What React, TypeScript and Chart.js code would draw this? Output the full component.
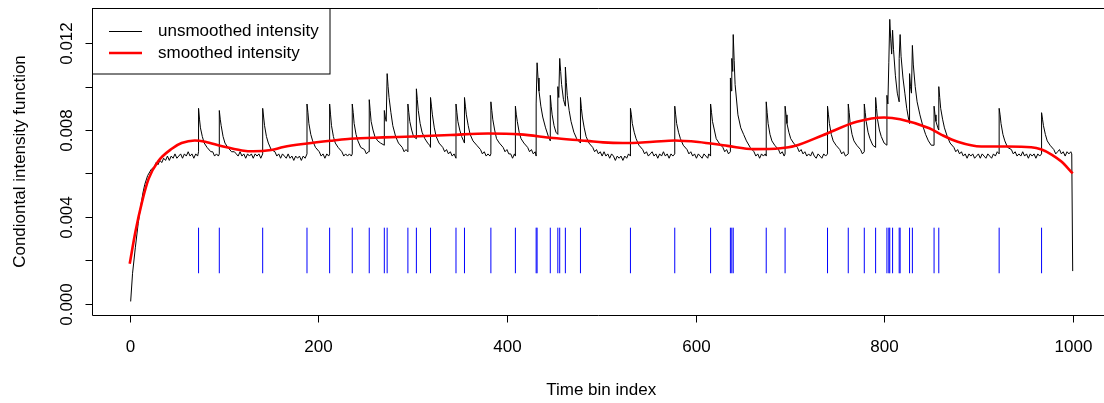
import React, { useEffect, useRef } from "react";
import { Chart, registerables } from "chart.js";

Chart.register(...registerables);

// ---- data ----
const xTicks = [0, 200, 400, 600, 800, 1000];
const xTickLabels = ["0", "200", "400", "600", "800", "1000"];
const yTicks = [0, 0.002, 0.004, 0.006, 0.008, 0.01, 0.012];
const yTickLabels = ["0.000", "", "0.004", "", "0.008", "", "0.012"];

const xTitle = "Time bin index";
const yTitle = "Condiontal intensity function";
const legendLabels = ["unsmoothed intensity", "smoothed intensity"];

const eventLow = 0.0014;
const eventHigh = 0.0035;
const eventTimes = [
  73, 95, 141, 188, 212, 236, 254, 270, 273, 295, 304, 319, 346, 355, 383, 409,
  431, 432, 446, 454, 456, 462, 478, 531, 578, 616, 637, 638.5, 640, 675, 695,
  740, 762, 779, 791, 803, 805, 806, 809, 816, 817, 827, 830, 853, 858, 922, 967,
];

const unsmoothed: [number, number][] = [
  [1, 0.0001], [3, 0.0014], [6, 0.0026], [9, 0.0037], [11, 0.0043], [14, 0.0051], [16, 0.0055],
  [19, 0.0059], [23, 0.0062], [26, 0.0063], [28, 0.0065], [30, 0.0064], [32, 0.0066], [34, 0.0065],
  [36, 0.0067], [38, 0.0066], [40, 0.0068], [42, 0.0066], [44, 0.0068], [46, 0.0067], [48, 0.0069],
  [50, 0.0067], [52, 0.0068], [54, 0.0069], [56, 0.0067], [58, 0.0069], [60, 0.0068], [62, 0.007],
  [64, 0.0068], [66, 0.0069], [68, 0.0067], [70, 0.0069], [72, 0.0068], [73, 0.007],
  [73, 0.009], [74, 0.0085], [75, 0.0081], [77, 0.0077], [79, 0.0074], [82, 0.0072], [86, 0.007],
  [88, 0.0070], [90, 0.0068], [92, 0.0069], [94, 0.0068], [95, 0.0069],
  [95, 0.0089], [96, 0.0085], [97, 0.0082], [99, 0.0077], [101, 0.0074], [104, 0.0072], [108, 0.007],
  [111, 0.0070], [113, 0.0069], [115, 0.0068], [117, 0.007], [119, 0.0068], [121, 0.0069],
  [123, 0.0067], [125, 0.0069], [127, 0.0068], [129, 0.0069], [131, 0.0067], [133, 0.0069],
  [135, 0.0068], [137, 0.0069], [139, 0.0067], [141, 0.0069],
  [141, 0.009], [142, 0.0086], [143, 0.0082], [145, 0.0077], [147, 0.0074], [150, 0.0071],
  [154, 0.007], [156, 0.0068], [158, 0.0069], [160, 0.0067], [162, 0.0069], [164, 0.0068],
  [166, 0.0067], [168, 0.0069], [170, 0.0067], [172, 0.0068], [174, 0.0066], [176, 0.0068],
  [178, 0.0067], [180, 0.0068], [182, 0.0066], [184, 0.0068], [186, 0.0067], [188, 0.0069],
  [188, 0.0092], [189, 0.0088], [190, 0.0083], [192, 0.0078], [194, 0.0075], [197, 0.0072],
  [201, 0.007], [203, 0.0068], [205, 0.0069], [207, 0.0067], [209, 0.0069], [211, 0.0068], [212, 0.0069],
  [212, 0.0092], [213, 0.0087], [214, 0.0082], [216, 0.0077], [218, 0.0074], [221, 0.0072],
  [225, 0.007], [227, 0.0068], [229, 0.0069], [231, 0.0068], [233, 0.0069], [235, 0.0068], [236, 0.0069],
  [236, 0.0092], [237, 0.0088], [238, 0.0083], [240, 0.0078], [242, 0.0075], [245, 0.0072],
  [249, 0.0071], [251, 0.0069], [253, 0.007], [254, 0.007],
  [254, 0.0094], [255, 0.0089], [256, 0.0084], [258, 0.008], [260, 0.0077], [263, 0.0075],
  [266, 0.0074], [270, 0.0073],
  [270, 0.0089], [271, 0.0086], [272, 0.0084], [273, 0.0106], [274, 0.01], [275, 0.0095],
  [277, 0.0088], [279, 0.0082], [282, 0.0077], [285, 0.0074], [289, 0.0072], [291, 0.007],
  [293, 0.0071], [295, 0.007],
  [295, 0.0092], [296, 0.0088], [297, 0.0084], [299, 0.008], [301, 0.0077], [304, 0.0076],
  [304, 0.0099], [305, 0.0094], [306, 0.0089], [308, 0.0083], [310, 0.0079], [313, 0.0076],
  [316, 0.0074], [318, 0.0073], [319, 0.0072],
  [319, 0.0095], [320, 0.0091], [321, 0.0087], [323, 0.0081], [325, 0.0077], [328, 0.0074],
  [332, 0.0072], [334, 0.007], [336, 0.0071], [338, 0.0069], [340, 0.007], [342, 0.0068],
  [344, 0.0069], [346, 0.0067],
  [346, 0.0092], [347, 0.0088], [348, 0.0084], [350, 0.008], [352, 0.0077], [354, 0.0075],
  [355, 0.0074],
  [355, 0.0095], [356, 0.0091], [357, 0.0087], [359, 0.0082], [361, 0.0078], [364, 0.0075],
  [368, 0.0073], [372, 0.0071], [374, 0.0069], [376, 0.007], [378, 0.0068], [380, 0.0069],
  [382, 0.0068], [383, 0.0069],
  [383, 0.0093], [384, 0.0089], [385, 0.0085], [387, 0.008], [389, 0.0076], [392, 0.0074],
  [396, 0.0072], [398, 0.007], [400, 0.0071], [402, 0.0069], [404, 0.0069], [406, 0.0067],
  [408, 0.0069], [409, 0.0068],
  [409, 0.0091], [410, 0.0087], [411, 0.0084], [413, 0.0079], [415, 0.0076], [418, 0.0074],
  [422, 0.0072], [424, 0.007], [426, 0.0071], [428, 0.0069], [430, 0.007], [431, 0.0068],
  [431, 0.0092], [432, 0.0111], [433, 0.0104], [434, 0.0098], [436, 0.0091], [438, 0.0086],
  [441, 0.0081], [444, 0.0077], [446, 0.0075],
  [446, 0.0096], [447, 0.0091], [448, 0.0087], [450, 0.0082], [452, 0.0079], [454, 0.0078],
  [454, 0.01], [455, 0.0095], [456, 0.0113], [457, 0.0107], [458, 0.0101], [460, 0.0094],
  [462, 0.0091], [462, 0.0109], [463, 0.0102], [464, 0.0096], [466, 0.0089], [468, 0.0084],
  [471, 0.0079], [474, 0.0076], [478, 0.0074],
  [478, 0.0095], [479, 0.009], [480, 0.0086], [482, 0.0081], [484, 0.0077], [487, 0.0074],
  [491, 0.0072], [493, 0.007], [495, 0.0071], [497, 0.0069], [499, 0.007], [501, 0.0068],
  [503, 0.007], [505, 0.0068], [507, 0.0069], [509, 0.0067], [511, 0.0069], [513, 0.0068],
  [515, 0.0066], [517, 0.0068], [519, 0.0067], [521, 0.0068], [523, 0.0066], [525, 0.0068],
  [527, 0.0067], [529, 0.0069], [531, 0.0068],
  [531, 0.009], [532, 0.0087], [533, 0.0083], [535, 0.0079], [537, 0.0076], [540, 0.0073],
  [544, 0.0071], [546, 0.0069], [548, 0.007], [550, 0.0068], [552, 0.0069], [554, 0.007],
  [556, 0.0068], [558, 0.0069], [560, 0.0067], [562, 0.0069], [564, 0.0068], [566, 0.007],
  [568, 0.0068], [570, 0.0069], [572, 0.0067], [574, 0.0069], [576, 0.0068], [578, 0.0069],
  [578, 0.0091], [579, 0.0087], [580, 0.0083], [582, 0.0079], [584, 0.0076], [587, 0.0073],
  [591, 0.0071], [593, 0.0069], [595, 0.007], [597, 0.0068], [599, 0.0069], [601, 0.0067],
  [603, 0.0069], [605, 0.0068], [607, 0.0067], [609, 0.0069], [611, 0.0068], [613, 0.0067],
  [614, 0.0069], [616, 0.0068],
  [616, 0.0092], [617, 0.0088], [618, 0.0084], [620, 0.008], [622, 0.0076], [625, 0.0074],
  [629, 0.0072], [631, 0.007], [633, 0.0071], [635, 0.0069], [637, 0.007],
  [637, 0.0104], [638, 0.0098], [638.5, 0.0113], [639.5, 0.0107], [640, 0.0124], [641, 0.0112],
  [642, 0.0101], [645, 0.0087], [648, 0.0081], [651, 0.0078], [654, 0.0075], [658, 0.0072],
  [662, 0.007], [664, 0.0068], [666, 0.0069], [668, 0.0067], [670, 0.0069], [672, 0.0068],
  [674, 0.0069], [675, 0.0068],
  [675, 0.0093], [676, 0.0088], [677, 0.0083], [679, 0.0078], [681, 0.0075], [684, 0.0073],
  [688, 0.0071], [690, 0.0069], [692, 0.007], [694, 0.0068], [695, 0.0069],
  [695, 0.0091], [696, 0.0087], [697, 0.0083], [699, 0.0079], [701, 0.0076], [704, 0.0074],
  [708, 0.0072], [710, 0.0070], [712, 0.0071], [714, 0.0069], [716, 0.007], [718, 0.0068],
  [720, 0.0069], [722, 0.0068], [724, 0.007], [726, 0.0068], [728, 0.0067], [730, 0.0069],
  [732, 0.0068], [734, 0.0067], [736, 0.0069], [738, 0.0068], [740, 0.0069],
  [740, 0.0091], [741, 0.0087], [742, 0.0083], [744, 0.0078], [746, 0.0075], [749, 0.0073],
  [753, 0.0071], [755, 0.0069], [757, 0.007], [759, 0.0068], [762, 0.0069],
  [762, 0.0092], [763, 0.0088], [764, 0.0083], [766, 0.0078], [768, 0.0075], [771, 0.0073],
  [775, 0.0071], [777, 0.0069], [779, 0.007],
  [779, 0.0092], [780, 0.0088], [781, 0.0084], [783, 0.0079], [785, 0.0076], [788, 0.0073],
  [791, 0.0072],
  [791, 0.0095], [792, 0.009], [793, 0.0085], [795, 0.008], [797, 0.0077], [800, 0.0074],
  [803, 0.0073],
  [803, 0.0096], [804, 0.0092], [805, 0.0111], [806, 0.0131], [807, 0.0122], [808, 0.0115],
  [809, 0.0126], [810, 0.0117], [812, 0.0105], [814, 0.0097], [816, 0.0093],
  [816, 0.0113], [817, 0.0124], [818, 0.0114], [820, 0.0104], [822, 0.0097], [824, 0.009],
  [826, 0.0085], [827, 0.0083],
  [827, 0.0106], [828, 0.01], [829, 0.0097], [830, 0.0119], [831, 0.011], [833, 0.01],
  [835, 0.0093], [838, 0.0087], [841, 0.0082], [844, 0.0078], [847, 0.0075], [850, 0.0073],
  [853, 0.0073],
  [853, 0.0091], [854, 0.0087], [855, 0.0084], [857, 0.0081], [858, 0.008],
  [858, 0.01], [859, 0.0095], [860, 0.009], [862, 0.0085], [864, 0.0081], [867, 0.0077],
  [870, 0.0074], [874, 0.0072], [876, 0.007], [878, 0.0071], [880, 0.0069], [882, 0.007],
  [884, 0.0068], [886, 0.0069], [888, 0.0067], [890, 0.0069], [892, 0.0068], [894, 0.0069],
  [896, 0.0067], [898, 0.0068], [900, 0.0069], [902, 0.0067], [904, 0.0069], [906, 0.0068],
  [908, 0.0067], [910, 0.0069], [912, 0.0068], [914, 0.0067], [916, 0.0069], [918, 0.0068],
  [920, 0.007], [922, 0.0069],
  [922, 0.009], [923, 0.0087], [924, 0.0083], [926, 0.0078], [928, 0.0075], [931, 0.0072],
  [935, 0.0071], [937, 0.0069], [939, 0.007], [941, 0.0068], [943, 0.0069], [945, 0.0068],
  [947, 0.007], [949, 0.0068], [951, 0.0069], [953, 0.0067], [955, 0.0069], [957, 0.0068],
  [959, 0.0069], [961, 0.0067], [963, 0.0069], [965, 0.0068], [967, 0.0069],
  [967, 0.0088], [968, 0.0085], [969, 0.0082], [971, 0.0078], [973, 0.0075], [976, 0.0073],
  [980, 0.0071], [982, 0.0069], [984, 0.007], [986, 0.0071], [988, 0.0069], [990, 0.007],
  [992, 0.0068], [994, 0.007], [996, 0.0069], [998, 0.007], [999, 0.0069],
  [1000, 0.0015],
];

const smoothed: [number, number][] = [
  [0, 0.00184], [6, 0.0033], [13, 0.00468], [20, 0.00575], [30, 0.00655], [45, 0.00715],
  [55, 0.0074], [69, 0.00752], [80, 0.00746], [98, 0.00725], [119, 0.00706], [131, 0.00702],
  [150, 0.00708], [163, 0.00722], [188, 0.00738], [216, 0.00752], [234, 0.0076], [269, 0.00766],
  [300, 0.0077], [340, 0.00777], [380, 0.00784], [414, 0.0078], [449, 0.00763], [485, 0.0075],
  [502, 0.00743], [523, 0.0074], [555, 0.00746], [578, 0.00752], [603, 0.00745], [634, 0.00727],
  [662, 0.00712], [690, 0.00716], [705, 0.00726], [735, 0.00776], [771, 0.00838],
  [800, 0.00858], [817, 0.0085], [848, 0.00808], [861, 0.00778], [878, 0.00746], [903, 0.00724],
  [931, 0.00724], [956, 0.00721], [967, 0.0071], [978, 0.00686], [988, 0.00655], [1000, 0.006],
];

// ---- axis ranges (R style, 4% extension) ----
const xMin = -40;
const xMax = 1033.2;
const yMin = -0.000524;
const yMax = 0.013624;

const FONT = '"Liberation Sans", Arial, sans-serif';

const rAxesPlugin = {
  id: "rAxes",
  afterDraw(chart: any) {
    const { ctx, chartArea: a, scales } = chart;
    const xs = scales.x;
    const ys = scales.y;
    ctx.save();
    ctx.strokeStyle = "#000";
    ctx.fillStyle = "#000";
    ctx.lineWidth = 1;
    const L = Math.round(a.left) + 0.5;
    const T = Math.round(a.top) + 0.5;
    const B = Math.round(a.bottom) + 0.5;
    const R = a.right + 10;
    // box (right edge lies outside the picture)
    ctx.beginPath();
    ctx.moveTo(R, T);
    ctx.lineTo(L, T);
    ctx.lineTo(L, B);
    ctx.lineTo(R, B);
    ctx.stroke();

    ctx.font = `17px ${FONT}`;
    // x ticks
    ctx.textAlign = "center";
    ctx.textBaseline = "middle";
    xTicks.forEach((v, i) => {
      const px = Math.round(xs.getPixelForValue(v)) + 0.5;
      ctx.beginPath();
      ctx.moveTo(px, B);
      ctx.lineTo(px, B + 7);
      ctx.stroke();
      ctx.fillText(xTickLabels[i], px, 347);
    });
    // y ticks
    yTicks.forEach((v, i) => {
      const py = Math.round(ys.getPixelForValue(v)) + 0.5;
      ctx.beginPath();
      ctx.moveTo(L, py);
      ctx.lineTo(L - 7, py);
      ctx.stroke();
      if (yTickLabels[i]) {
        ctx.save();
        ctx.translate(67, py);
        ctx.rotate(-Math.PI / 2);
        ctx.fillText(yTickLabels[i], 0, 0);
        ctx.restore();
      }
    });
    // titles
    ctx.fillText(xTitle, (a.left + xs.getPixelForValue(1040)) / 2, 390);
    ctx.save();
    ctx.translate(20, (a.top + a.bottom) / 2);
    ctx.rotate(-Math.PI / 2);
    ctx.fillText(yTitle, 0, 0);
    ctx.restore();

    // legend
    ctx.fillStyle = "#fff";
    ctx.fillRect(L, T, 330 - L, 74 - T);
    ctx.strokeStyle = "#000";
    ctx.strokeRect(L, T, 330 - L, 74 - T);
    const rows = [
      { y: 31.5, color: "#000000", w: 1 },
      { y: 53, color: "#ff0000", w: 2.6 },
    ];
    rows.forEach((r, i) => {
      ctx.strokeStyle = r.color;
      ctx.lineWidth = r.w;
      ctx.beginPath();
      ctx.moveTo(109, r.y);
      ctx.lineTo(142, r.y);
      ctx.stroke();
      ctx.fillStyle = "#000";
      ctx.textAlign = "left";
      ctx.fillText(legendLabels[i], 158, r.y);
    });
    ctx.restore();
  },
};

export default function App() {
  const ref = useRef<HTMLCanvasElement | null>(null);
  useEffect(() => {
    if (!ref.current) return;
    const eventPts: any[] = [];
    eventTimes.forEach((t) => {
      eventPts.push({ x: t, y: eventLow }, { x: t, y: eventHigh }, { x: t, y: null });
    });
    const chart = new Chart(ref.current, {
      type: "line",
      data: {
        datasets: [
          {
            label: legendLabels[1],
            data: smoothed.map(([x, y]) => ({ x, y })),
            borderColor: "#ff0000",
            borderWidth: 2.6,
            pointRadius: 0,
            cubicInterpolationMode: "monotone",
            fill: false,
            order: 0,
          },
          {
            label: legendLabels[0],
            data: unsmoothed.map(([x, y]) => ({ x, y })),
            borderColor: "#000000",
            borderWidth: 1,
            pointRadius: 0,
            tension: 0,
            fill: false,
            order: 1,
          },
          {
            label: "events",
            data: eventPts,
            borderColor: "#0000ff",
            borderWidth: 1,
            pointRadius: 0,
            spanGaps: false,
            fill: false,
            order: 2,
          },
        ],
      },
      options: {
        animation: false,
        responsive: false,
        devicePixelRatio: 1,
        layout: { padding: { left: 92, top: 8, right: 0, bottom: 88 } },
        plugins: { legend: { display: false }, tooltip: { enabled: false } },
        scales: {
          x: { type: "linear", min: xMin, max: xMax, display: false },
          y: { type: "linear", min: yMin, max: yMax, display: false },
        },
      },
      plugins: [rAxesPlugin],
    } as any);
    return () => chart.destroy();
  }, []);
  return (
    <div style={{ position: "absolute", left: 0, top: 0, width: 1104, height: 403, background: "#fff" }}>
      <canvas ref={ref} width={1104} height={403} style={{ display: "block" }} />
    </div>
  );
}
